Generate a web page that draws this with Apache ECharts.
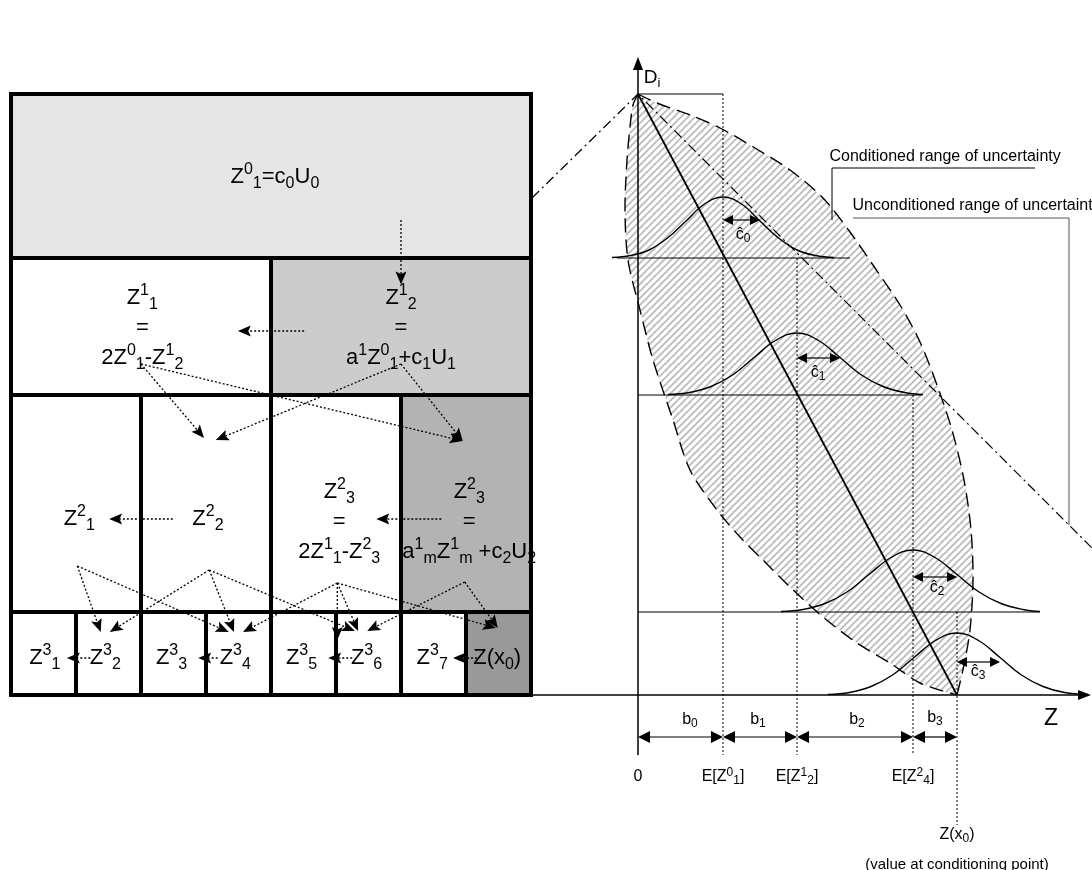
<!DOCTYPE html>
<html>
<head>
<meta charset="utf-8">
<script src="https://cdn.jsdelivr.net/npm/echarts@6.0.0/dist/echarts.min.js"></script>
<style>
  html, body { margin: 0; padding: 0; background: #ffffff; }
  #chart { width: 1092px; height: 870px; }
</style>
</head>
<body>
<div id="chart"></div>
<script>
const FONT = '"Liberation Sans", Arial, Helvetica, sans-serif';

// ---------------- shared vertical scale: D levels ----------------
// apex, then the baselines of the four conditional distributions
const levelD = [60.1, 43.7, 30.0, 8.3, 0];

// ---------------- left panel: hierarchy of simulated values ----------------
// [first column, last column, row]  (8 columns = bottom-level cells)
const cells = [
  [0, 8, 0],
  [0, 4, 1], [4, 8, 1],
  [0, 2, 2], [2, 4, 2], [4, 6, 2], [6, 8, 2],
  [0, 1, 3], [1, 2, 3], [2, 3, 3], [3, 4, 3], [4, 5, 3], [5, 6, 3], [6, 7, 3], [7, 8, 3]
];
// conditioning depth of each cell (0 = derived, higher = darker)
const cellDepth = [1, 0, 2, 0, 0, 0, 3, 0, 0, 0, 0, 0, 0, 0, 4];

const treeLabels = [
  [4.06, 51.85, 'Z{sp|0}{sb|1}=c{sb|0}U{sb|0}'],
  [2.02, 36.75, 'Z{sp|1}{sb|1}\n=\n2Z{sp|0}{sb|1}-Z{sp|1}{sb|2}'],
  [6.0, 36.75, 'Z{sp|1}{sb|2}\n=\na{sp|1}Z{sp|0}{sb|1}+c{sb|1}U{sb|1}'],
  [1.05, 17.6, 'Z{sp|2}{sb|1}'],
  [3.03, 17.6, 'Z{sp|2}{sb|2}'],
  [5.05, 17.3, 'Z{sp|2}{sb|3}\n=\n2Z{sp|1}{sb|1}-Z{sp|2}{sb|3}'],
  [7.05, 17.3, 'Z{sp|2}{sb|3}\n=\na{sp|1}{sb|m}Z{sp|1}{sb|m} +c{sb|2}U{sb|2}'],
  [0.52, 3.7, 'Z{sp|3}{sb|1}'],
  [1.45, 3.7, 'Z{sp|3}{sb|2}'],
  [2.47, 3.7, 'Z{sp|3}{sb|3}'],
  [3.45, 3.7, 'Z{sp|3}{sb|4}'],
  [4.47, 3.7, 'Z{sp|3}{sb|5}'],
  [5.47, 3.7, 'Z{sp|3}{sb|6}'],
  [6.48, 3.7, 'Z{sp|3}{sb|7}'],
  [7.48, 3.7, 'Z(x{sb|0})']
];

// dotted dependency arrows: [from col, from D, to col, to D]
const treeArrows = [
  [6.0, 47.5, 6.0, 41.05],
  [4.51, 36.4, 3.49, 36.4],
  [2.0, 33.1, 2.97, 25.7],
  [2.0, 33.1, 6.95, 25.4],
  [6.0, 33.1, 3.15, 25.5],
  [6.0, 33.1, 6.95, 25.4],
  [2.49, 17.6, 1.51, 17.6],
  [6.62, 17.6, 5.62, 17.6],
  [1.02, 12.9, 1.38, 6.3],
  [1.02, 12.9, 3.35, 6.3],
  [3.05, 12.5, 1.52, 6.3],
  [3.05, 12.5, 3.43, 6.3],
  [3.05, 12.5, 5.29, 6.4],
  [5.02, 11.2, 3.57, 6.3],
  [5.02, 11.2, 5.34, 6.4],
  [5.02, 11.2, 5.02, 5.5],
  [5.02, 11.2, 7.46, 6.7],
  [6.98, 11.3, 5.48, 6.4],
  [6.98, 11.3, 7.49, 6.7],
  [1.22, 3.7, 0.86, 3.7],
  [3.18, 3.7, 2.88, 3.7],
  [5.25, 3.7, 4.88, 3.7],
  [7.17, 3.7, 6.80, 3.7]
];

// ---------------- right panel: D against Z ----------------
const zMarks = [8.5, 15.9, 27.5, 31.9];          // E[Z0_1], E[Z1_2], E[Z2_4], Z(x0)
const guideBottom = [-6.0, -6.0, -6.0, -13.0];
const baselineSpan = [[-2.1, 21.2], [0, 28.4], [0, 40.2]];
const spreads = [3.7, 4.3, 4.4, 4.3];             // c-hat widths
const spreadD = [47.5, 33.7, 11.8, 3.3];

const curve0 = [[-2.6, 43.75], [-0.75, 43.95], [1.1, 44.5], [2.95, 45.7], [4.8, 47.4], [6.65, 49.1], [8.5, 49.8],
  [10.35, 49.1], [12.2, 47.4], [14.05, 45.7], [15.9, 44.5], [17.75, 43.95], [19.6, 43.75]];
const curve1 = [[3.0, 30.05], [5.15, 30.25], [7.3, 30.85], [9.45, 32.0], [11.6, 33.75], [13.75, 35.45], [15.9, 36.2],
  [18.05, 35.45], [20.2, 33.75], [22.35, 32.0], [24.5, 30.85], [26.65, 30.25], [28.5, 30.05]];
const curve2 = [[14.3, 8.35], [16.5, 8.55], [18.7, 9.15], [20.9, 10.3], [23.1, 12.05], [25.3, 13.75], [27.5, 14.5],
  [29.7, 13.75], [31.9, 12.05], [34.1, 10.3], [36.3, 9.15], [38.5, 8.55], [40.2, 8.35]];
const curve3 = [[19.0, 0.05], [21.15, 0.25], [23.3, 0.85], [25.45, 2.0], [27.6, 3.75], [29.75, 5.45], [31.9, 6.2],
  [34.05, 5.45], [36.2, 3.75], [38.35, 2.0], [40.5, 0.85], [42.65, 0.25], [45.0, 0.05]];

// conditioned range: lens between the apex and Z(x0)
const lensRight = [[0, 60.1], [1.9, 59.2], [5.2, 58.0], [8.2, 56.7], [11.7, 54.7], [15.2, 52.5], [18.5, 49.7],
  [21.2, 46.3], [23.7, 42.7], [26.2, 39.0], [28.2, 35.3], [29.9, 31.0], [31.4, 26.5], [32.6, 21.5],
  [33.3, 16.5], [33.5, 11.5], [33.2, 6.5], [32.6, 3.0], [31.9, 0]];
const lensLeft = [[0, 60.1], [-0.5, 59.0], [-0.8, 56.8], [-1.1, 53.5], [-1.3, 48.5], [-1.0, 43.5], [0.2, 38.5],
  [1.5, 33.5], [3.5, 27.5], [5.2, 22.5], [7.9, 18.5], [10.2, 15.8], [12.5, 13.5], [15.2, 10.8],
  [18.5, 7.8], [21.9, 5.2], [25.2, 3.2], [28.2, 1.2], [31.9, 0]];

// unconditioned range: 45-degree bounds through the apex
const unconditioned = [[-10.6, 49.7], [0, 60.1], [45.4, 14.7]];
const calloutConditioned = [[19.4, 47.5], [19.4, 52.7], [39.7, 52.7]];
const calloutUnconditioned = [[21.5, 47.7], [43.1, 47.7], [43.1, 17.0]];

const axisArrows = [[0, -6.0, 0, 63.8], [-10.8, 0, 45.3, 0]];

const tickTexts = [
  [0, -8.2, '0'],
  [8.5, -8.2, 'E[Z{sp|0}{sb|1}]'],
  [15.9, -8.2, 'E[Z{sp|1}{sb|2}]'],
  [27.5, -8.2, 'E[Z{sp|2}{sb|4}]'],
  [31.9, -14.0, 'Z(x{sb|0})'],
  [5.2, -2.5, 'b{sb|0}'],
  [12.0, -2.5, 'b{sb|1}'],
  [21.9, -2.5, 'b{sb|2}'],
  [29.7, -2.3, 'b{sb|3}'],
  [10.5, 46.0, 'ĉ{sb|0}'],
  [18.0, 32.2, 'ĉ{sb|1}'],
  [29.9, 10.7, 'ĉ{sb|2}'],
  [34.0, 2.3, 'ĉ{sb|3}']
];
const noteTexts = [[31.9, -17.0, '(value at conditioning point)']];
const calloutTexts = [
  [19.1, 53.8, 'Conditioned range of uncertainty'],
  [21.4, 48.9, 'Unconditioned range of uncertainty']
];
const axisTitles = [[1.4, 61.7, 'D{sb|i}'], [41.3, -2.4, 'Z']];

// ---------------- helpers ----------------
const shadeColors = ['#ffffff', '#e5e5e5', '#cccccc', '#b3b3b3', '#999999'];

function hatchPattern() {
  const s = 7;
  const c = document.createElement('canvas');
  c.width = s; c.height = s;
  const g = c.getContext('2d');
  g.fillStyle = '#ffffff';
  g.fillRect(0, 0, s, s);
  g.strokeStyle = '#bdbdbd';
  g.lineWidth = 1.9;
  g.beginPath();
  g.moveTo(-1, s + 1); g.lineTo(s + 1, -1);
  g.moveTo(-2, 2); g.lineTo(2, -2);
  g.moveTo(s - 2, s + 2); g.lineTo(s + 2, s - 2);
  g.stroke();
  return { image: c, repeat: 'repeat' };
}
const hatch = hatchPattern();

function arrowRenderer(opt) {
  return function (params, api) {
    const a = api.coord([api.value(0), api.value(1)]);
    const b = api.coord([api.value(2), api.value(3)]);
    const dx = b[0] - a[0], dy = b[1] - a[1];
    const len = Math.hypot(dx, dy) || 1;
    const ux = dx / len, uy = dy / len, nx = -uy, ny = ux;
    const L = opt.headLength, W = opt.headWidth / 2, k = opt.notch;
    const head = (tip, sx, sy) => ({
      type: 'polygon',
      shape: { points: [
        [tip[0], tip[1]],
        [tip[0] - sx * L + nx * W, tip[1] - sy * L + ny * W],
        [tip[0] - sx * L * k, tip[1] - sy * L * k],
        [tip[0] - sx * L - nx * W, tip[1] - sy * L - ny * W]
      ] },
      style: { fill: opt.color }
    });
    const start = opt.both ? [a[0] + ux * L * k, a[1] + uy * L * k] : a;
    const end = [b[0] - ux * L * k, b[1] - uy * L * k];
    const children = [{
      type: 'line',
      shape: { x1: start[0], y1: start[1], x2: end[0], y2: end[1] },
      style: { stroke: opt.color, lineWidth: opt.lineWidth, lineDash: opt.dash || null }
    }, head(b, ux, uy)];
    if (opt.both) children.push(head(a, -ux, -uy));
    return { type: 'group', children };
  };
}

function segmentRenderer(style) {
  return function (params, api) {
    const a = api.coord([api.value(0), api.value(1)]);
    const b = api.coord([api.value(2), api.value(3)]);
    return { type: 'line', shape: { x1: a[0], y1: a[1], x2: b[0], y2: b[1] }, style: Object.assign({}, style) };
  };
}

function custom(axis, data, renderItem, z) {
  return {
    type: 'custom', xAxisIndex: axis, yAxisIndex: axis, silent: true, z: z,
    data: data, renderItem: renderItem, encode: { x: [0, 2], y: [1, 3] }
  };
}

function lineSeries(points, lineStyle, smooth, z) {
  return {
    type: 'line', xAxisIndex: 1, yAxisIndex: 1, silent: true, z: z,
    data: points, smooth: smooth, symbol: 'none', lineStyle: lineStyle
  };
}

function richFor(small) {
  return {
    sp: { fontFamily: FONT, fontSize: small, lineHeight: small, verticalAlign: 'top', color: '#000' },
    sb: { fontFamily: FONT, fontSize: small, lineHeight: small, verticalAlign: 'bottom', color: '#000' }
  };
}

function textSeries(axis, items, fontSize, lineHeight, small, position) {
  return {
    type: 'scatter', xAxisIndex: axis, yAxisIndex: axis, silent: true, z: 20,
    symbolSize: 1, itemStyle: { color: 'rgba(0,0,0,0)' },
    data: items.map(it => [it[0], it[1]]),
    label: {
      show: true, position: position || 'inside', distance: 0,
      color: '#000', opacity: 1, fontFamily: FONT, fontSize: fontSize, lineHeight: lineHeight,
      textBorderWidth: 0,
      formatter: p => items[p.dataIndex][2],
      rich: richFor(small)
    }
  };
}

// ---------------- derived mark lists ----------------
const cellRects = cells.map(([c0, c1, r]) => [c0, levelD[r], c1, levelD[r + 1]]);

const guideLines = zMarks.map((z, i) => [z, levelD[i], z, guideBottom[i]]);
const solidLines = [[0, levelD[0], zMarks[0], levelD[0]]]
  .concat(baselineSpan.map((s, i) => [s[0], levelD[i + 1], s[1], levelD[i + 1]]));
const trendLine = [[0, levelD[0], zMarks[3], levelD[4]]];
const dimBounds = [0].concat(zMarks);
const dimArrows = zMarks.map((z, i) => [dimBounds[i], -4.2, z, -4.2]);
const spreadArrows = zMarks.map((z, i) => [z, spreadD[i], z + spreads[i], spreadD[i]]);

// ---------------- chart ----------------
const chart = echarts.init(document.getElementById('chart'), null, { renderer: 'canvas' });

const cellFillRender = (params, api) => {
  const p0 = api.coord([api.value(0), api.value(1)]);
  const p1 = api.coord([api.value(2), api.value(3)]);
  return { type: 'rect', shape: { x: p0[0], y: p0[1], width: p1[0] - p0[0], height: p1[1] - p0[1] },
    style: { fill: shadeColors[cellDepth[params.dataIndex]], stroke: null } };
};
const cellBorderRender = (params, api) => {
  const p0 = api.coord([api.value(0), api.value(1)]);
  const p1 = api.coord([api.value(2), api.value(3)]);
  return { type: 'rect', shape: { x: p0[0], y: p0[1], width: p1[0] - p0[0], height: p1[1] - p0[1] },
    style: { fill: null, stroke: '#000', lineWidth: 4 } };
};

const lensRender = (params, api) => {
  const R = lensRight.map(p => api.coord(p));
  const L = lensLeft.map(p => api.coord(p));
  const dashed = { fill: null, stroke: '#000', lineWidth: 1.4, lineDash: [14, 7] };
  return { type: 'group', children: [
    { type: 'polyline', shape: { points: R, smooth: 0.3 }, style: { fill: hatch, stroke: null } },
    { type: 'polyline', shape: { points: L, smooth: 0.3 }, style: { fill: hatch, stroke: null } },
    { type: 'polyline', shape: { points: R, smooth: 0.3 }, style: Object.assign({}, dashed) },
    { type: 'polyline', shape: { points: L, smooth: 0.3 }, style: Object.assign({}, dashed) }
  ] };
};

const option = {
  animation: false,
  backgroundColor: '#ffffff',
  grid: [
    { left: 11, top: 94, width: 520, height: 601, outerBoundsMode: 'none' },
    { left: 0, top: 0, width: 1092, height: 870, outerBoundsMode: 'none' }
  ],
  xAxis: [
    { gridIndex: 0, type: 'value', min: 0, max: 8, show: false },
    { gridIndex: 1, type: 'value', min: -63.8, max: 45.4, show: false }
  ],
  yAxis: [
    { gridIndex: 0, type: 'value', min: 0, max: 60.1, show: false },
    { gridIndex: 1, type: 'value', min: -17.5, max: 69.5, show: false }
  ],
  series: [
    // left hierarchy
    custom(0, cellRects, cellFillRender, 1),
    textSeries(0, treeLabels, 22, 30, 16),
    custom(0, cellRects, cellBorderRender, 22),
    custom(0, treeArrows, arrowRenderer({ color: '#000', lineWidth: 1.3, dash: [2, 2], headLength: 13, headWidth: 11, notch: 0.8 }), 23),

    // right panel
    custom(1, [[0, 0, 0, 0]], lensRender, 2),
    custom(1, guideLines, segmentRenderer({ stroke: '#000', lineWidth: 1, lineDash: [2, 2] }), 3),
    custom(1, solidLines, segmentRenderer({ stroke: '#000', lineWidth: 1 }), 4),
    lineSeries(unconditioned, { color: '#000', width: 1.2, type: [10, 4, 2, 4] }, false, 4),
    lineSeries(calloutConditioned, { color: '#000', width: 1 }, false, 4),
    lineSeries(calloutUnconditioned, { color: '#555', width: 1 }, false, 4),
    lineSeries(curve0, { color: '#000', width: 1.4 }, 0.4, 5),
    lineSeries(curve1, { color: '#000', width: 1.4 }, 0.4, 5),
    lineSeries(curve2, { color: '#000', width: 1.4 }, 0.4, 5),
    lineSeries(curve3, { color: '#000', width: 1.4 }, 0.4, 5),
    custom(1, trendLine, segmentRenderer({ stroke: '#000', lineWidth: 1.8 }), 6),
    custom(1, axisArrows, arrowRenderer({ color: '#000', lineWidth: 1.5, headLength: 13, headWidth: 10, notch: 1 }), 7),
    custom(1, dimArrows, arrowRenderer({ color: '#000', lineWidth: 1.2, headLength: 12, headWidth: 12, notch: 1, both: true }), 7),
    custom(1, spreadArrows, arrowRenderer({ color: '#000', lineWidth: 1.2, headLength: 10, headWidth: 10, notch: 1, both: true }), 7),
    textSeries(1, tickTexts, 16, 20, 12),
    textSeries(1, noteTexts, 15, 18, 11),
    textSeries(1, calloutTexts, 16, 20, 11, 'right'),
    textSeries(1, axisTitles.slice(0, 1), 19, 24, 13),
    textSeries(1, axisTitles.slice(1), 23, 26, 15)
  ]
};
chart.setOption(option);
</script>
</body>
</html>
